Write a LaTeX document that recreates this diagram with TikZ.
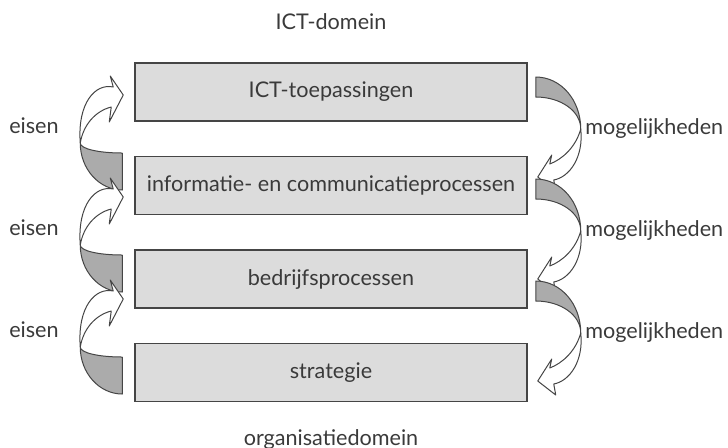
\documentclass[tikz,border=0pt]{standalone}
\usepackage{fontspec}
\setmainfont{Lato}
\usepackage{xcolor}
\usetikzlibrary{positioning}
\definecolor{vakGrijs}{HTML}{DCDCDC}
\definecolor{lintGrijs}{HTML}{ABABAB}
\definecolor{lijnGrijs}{HTML}{454545}
\definecolor{tekstGrijs}{HTML}{3A3A3A}

\begin{document}
\begin{tikzpicture}[
        x=0.5pt, y=-0.5pt,
        node distance=17pt,
        font=\fontsize{10.8}{13}\selectfont,
        text=tekstGrijs,
        vak/.style={draw=lijnGrijs, line width=0.75pt, fill=vakGrijs,
                    minimum width=196pt, minimum height=29pt, inner sep=0pt},
        lint/.style={draw=lijnGrijs, line width=0.5pt, line join=round},
        eisenpijl/.pic={
            % grijs deel onder de knik
            \draw[lint, fill=lintGrijs] (-43,48) .. controls (-43,74) and (-24,95) .. (-1,95)
                -- (-1,58) .. controls (-24,58) and (-43,54) .. cycle;
            % wit deel met kop
            \draw[lint, fill=white] (-43,48) .. controls (-46,8) and (-28,-12) .. (-10,-8)
                -- (-13,-19) -- (0,0) -- (-14,27) -- (-12,12)
                .. controls (-28,16) and (-40,30) .. cycle;
        },
        mogelijkpijl/.pic={
            \draw[lint, fill=lintGrijs] (-2,-100) .. controls (23,-100) and (43,-77) .. (43,-48)
                .. controls (43,-66) and (23,-80) .. (-2,-80) -- cycle;
            \draw[lint, fill=white] (43,-48) .. controls (46,-20) and (32,0) .. (16,3)
                -- (18,14) -- (0,0) -- (14,-22) -- (12,-13)
                .. controls (25,-18) and (38,-30) .. cycle;
        },
    ]
    \useasboundingbox (0,0) rectangle (728,447);

    \node[vak] (b1) at (331,92) {ICT-toepassingen};
    \node[vak, below=of b1] (b2) {informatie- en communicatieprocessen};
    \node[vak, below=of b2] (b3) {bedrijfsprocessen};
    \node[vak, below=of b3] (b4) {strategie};

    \node[above=13pt of b1] (ictdomein) {ICT-domein};
    \node[below=10pt of b4] (orgdomein) {organisatiedomein};

    % pijlen links en rechts
    \foreach \k in {0,1,2} {
        \pic at ([shift={(-11,3+102*\k)}]b1.west) {eisenpijl};
        \pic at ([shift={(10,85+102*\k)}]b1.east) {mogelijkpijl};
        \node (eisen\k) at (34,126+102*\k) {eisen};
        \node[anchor=west, inner sep=0pt] (mogelijk\k) at (585,129+102*\k) {mogelijkheden};
    }
\end{tikzpicture}
\end{document}
